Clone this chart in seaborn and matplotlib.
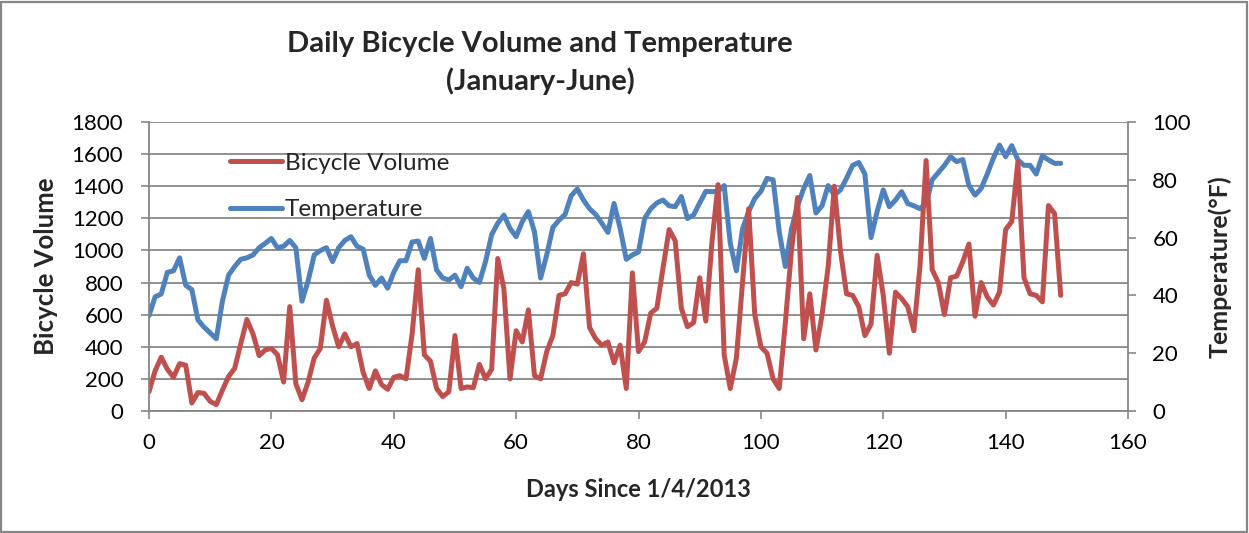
import matplotlib
matplotlib.use("Agg")
import matplotlib.pyplot as plt
import seaborn as sns
import pandas as pd
from matplotlib.patches import Rectangle

# ---- data ----
days = list(range(150))
bicycle_volume = [
    120, 250, 335, 260, 210, 295, 285, 50, 115, 110,
    60, 40, 130, 215, 265, 420, 570, 480, 345, 380,
    390, 350, 180, 650, 170, 70, 180, 330, 390, 690,
    530, 400, 480, 400, 420, 240, 140, 250, 165, 135,
    210, 220, 200, 480, 880, 350, 310, 140, 90, 120,
    470, 140, 150, 145, 290, 200, 260, 950, 760, 200,
    500, 430, 630, 220, 200, 370, 470, 720, 730, 800,
    790, 980, 520, 450, 410, 430, 300, 410, 140, 860,
    370, 430, 610, 640, 890, 1130, 1060, 640, 525, 550,
    830, 560, 1050, 1410, 350, 140, 330, 800, 1260, 600,
    400, 360, 200, 140, 550, 1000, 1330, 450, 730, 380,
    600, 900, 1400, 1000, 730, 720, 650, 470, 540, 970,
    720, 360, 740, 700, 650, 500, 900, 1560, 880, 800,
    600, 830, 840, 930, 1040, 590, 800, 710, 660, 740,
    1130, 1180, 1550, 830, 730, 720, 680, 1280, 1230, 720,
]
temperature = [
    33, 39.5, 40.5, 48, 48.5, 53, 43.5, 42, 31.5, 29,
    27, 25, 38, 47, 50, 52.5, 53, 54, 56.5, 58,
    59.7, 56.5, 57, 59, 56.5, 38, 45, 54, 55.5, 56.5,
    51.7, 56.5, 59, 60.3, 57, 56, 47, 43.5, 46, 42.5,
    48, 52, 52, 58.5, 58.8, 52.8, 59.7, 48.8, 46, 45.3,
    47, 43, 49.4, 46, 44.5, 51.7, 61, 65, 67.8, 63.2,
    60.3, 65.5, 69, 62, 46, 54, 63.5, 66, 68, 74.5,
    76.8, 73, 70, 68, 65, 61.8, 71.8, 63.2, 52.5, 54,
    55, 66.6, 70, 72, 73, 71, 70.7, 74.2, 66.6, 67.8,
    72, 76, 75.9, 76, 78, 58, 48.5, 63, 69, 73.5,
    76, 80.5, 80, 62, 50, 63, 71, 77, 81.5, 68.5,
    71, 78, 74.7, 76.5, 80.5, 85, 86, 82, 60, 69,
    76.5, 70.7, 73, 75.9, 71.8, 71, 70, 71.8, 80, 82.5,
    85, 88, 86.3, 87, 78, 74.7, 77, 82, 87.5, 92,
    88, 91.8, 86.9, 85, 85, 82, 88.3, 86.9, 85.7, 85.7,
]
x_ticks = [0, 20, 40, 60, 80, 100, 120, 140, 160]
vol_ticks = [0, 200, 400, 600, 800, 1000, 1200, 1400, 1600, 1800]
temp_ticks = [0, 20, 40, 60, 80, 100]

df = pd.DataFrame({"day": days, "Bicycle Volume": bicycle_volume,
                   "Temperature": temperature})

sns.set_style("white")
plt.rcParams["font.family"] = ["Lato", "DejaVu Sans"]

RED = "#C0504D"
BLUE = "#4F81BD"
GRID = "#868686"

W, H = 1249, 533
fig = plt.figure(figsize=(W / 100, H / 100), dpi=100)
L, R, T, B = 149, 1128, 122, 411

# bottom axes: temperature (secondary, right) with grid; top axes: volume (primary, left)
axT = fig.add_axes([L / W, 1 - B / H, (R - L) / W, (B - T) / H])
axV = axT.twinx()
axV.yaxis.set_label_position("left")
axV.yaxis.tick_left()
axT.yaxis.set_label_position("right")
axT.yaxis.tick_right()
axV.set_zorder(axT.get_zorder() + 1)
axV.patch.set_visible(False)

sns.lineplot(data=df, x="day", y="Temperature", ax=axT, color=BLUE,
             linewidth=3.6, legend=False, solid_capstyle="round",
             solid_joinstyle="round")
sns.lineplot(data=df, x="day", y="Bicycle Volume", ax=axV, color=RED,
             linewidth=3.6, legend=False, solid_capstyle="round",
             solid_joinstyle="round")

axV.set_xlim(0, 160)
axT.set_xlim(0, 160)
axV.set_ylim(0, 1800)
axT.set_ylim(0, 100)
axV.set_yticks(vol_ticks)
axT.set_yticks(temp_ticks)
axT.set_xticks(x_ticks)
axV.set_xticks(x_ticks)

# horizontal gridlines at the volume ticks (drawn behind both series)
for v in vol_ticks:
    axT.axhline(v / 1800 * 100, color=GRID, lw=1.3, zorder=0.5)

for a in (axT, axV):
    for s in a.spines.values():
        s.set_visible(False)
for a, side in ((axV, "left"), (axT, "right"), (axT, "bottom")):
    a.spines[side].set_visible(True)
    a.spines[side].set_color(GRID)
    a.spines[side].set_linewidth(1.3)

axV.tick_params(axis="y", which="major", direction="out", length=5.5,
                width=1.2, color=GRID, pad=13, labelsize=16, left=True,
                labelcolor="black")
axT.tick_params(axis="y", which="major", direction="out", length=5.5,
                width=1.2, color=GRID, pad=12, labelsize=16, right=True,
                labelcolor="black")
axT.tick_params(axis="x", which="major", direction="out", length=5.5,
                width=1.2, color=GRID, pad=10, labelsize=16, bottom=True,
                labelcolor="black")
axV.tick_params(axis="x", bottom=False, labelbottom=False)

axV.set_ylabel("Bicycle Volume", fontsize=18.5, fontweight="bold", labelpad=10)
axT.set_ylabel("Temperature(°F)", fontsize=18, fontweight="bold", labelpad=12)
axT.set_xlabel("Days Since 1/4/2013", fontsize=17, fontweight="bold", labelpad=18)
axV.set_xlabel("")

fig.text(540 / W, 1 - 63 / H, "Daily Bicycle Volume and Temperature\n(January-June)",
         ha="center", va="center", fontsize=21, fontweight="bold",
         linespacing=1.45)

handles = [axV.get_lines()[0], axT.get_lines()[0]]
leg = axV.legend(handles, ["Bicycle Volume", "Temperature"],
                 loc="upper left",
                 bbox_to_anchor=((220 - L) / (R - L), 1 - (143 - T) / (B - T)),
                 frameon=False, fontsize=17.5, handlelength=2.15,
                 handletextpad=0.12, labelspacing=1.05, borderaxespad=0)

fig.patches.append(Rectangle((1 / W, 1 / H), (W - 3) / W, (H - 3) / H,
                             transform=fig.transFigure, fill=False,
                             edgecolor=GRID, linewidth=1.6))

fig.savefig("out.png", dpi=100)
